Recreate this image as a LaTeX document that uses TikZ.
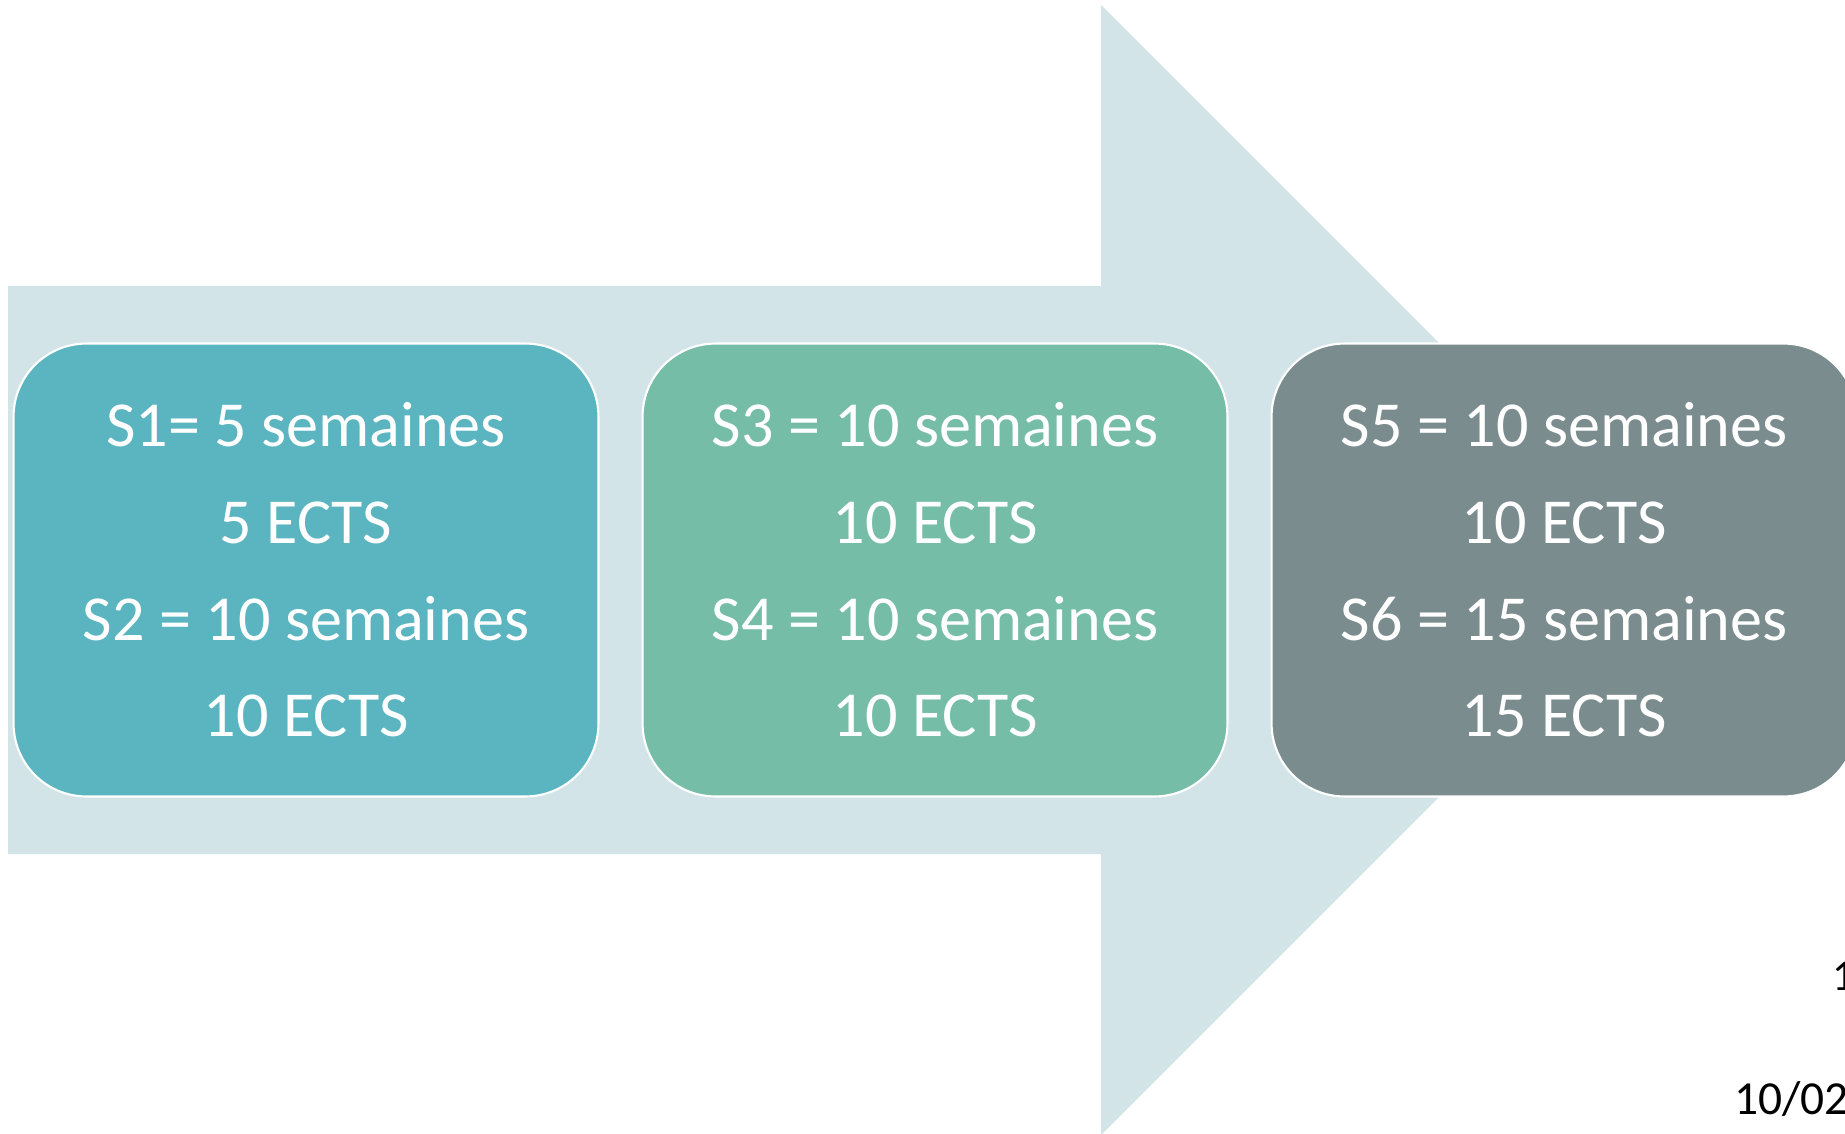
\documentclass[tikz,border=0pt]{standalone}
\usepackage{fontspec}
\setmainfont{Carlito}
\usepackage{tikz}

\definecolor{arrowbg}{HTML}{D2E4E8}
\definecolor{boxa}{HTML}{5AB5C0}
\definecolor{boxb}{HTML}{76BDA7}
\definecolor{boxc}{HTML}{7B8C8E}

\begin{document}
\begin{tikzpicture}[x=0.02cm, y=-0.02cm,
	sem/.style={draw=white, line width=1.2pt, rounded corners=1.46cm, minimum width=11.7cm, minimum height=9.06cm, align=center, text=white, font=\fontsize{36.5}{55}\selectfont},
	foot/.style={text=black, inner sep=0pt, anchor=base west}]
	\useasboundingbox (0,0) rectangle (1845,1133);

	\fill[arrowbg] (8,286) -- (1101,286) -- (1101,5) -- (1666,570) -- (1101,1135) -- (1101,854) -- (8,854) -- cycle;

	\node[sem, fill=boxa] at (306,570) (s12) {S1= 5 semaines \\ 5 ECTS \\ S2 = 10 semaines \\ 10 ECTS};
	\node[sem, fill=boxb] at (935,570) (s34) {S3 = 10 semaines \\ 10 ECTS \\ S4 = 10 semaines \\ 10 ECTS};
	\node[sem, fill=boxc] at (1564,570) (s56) {S5 = 10 semaines \\ 10 ECTS \\ S6 = 15 semaines \\ 15 ECTS};

	\node[foot, font=\fontsize{25}{30}\selectfont] at (1832,990) (pg) {1};
	\node[foot, font=\fontsize{27}{30}\selectfont] at (1734,1114) (date) {10/02};
\end{tikzpicture}
\end{document}
